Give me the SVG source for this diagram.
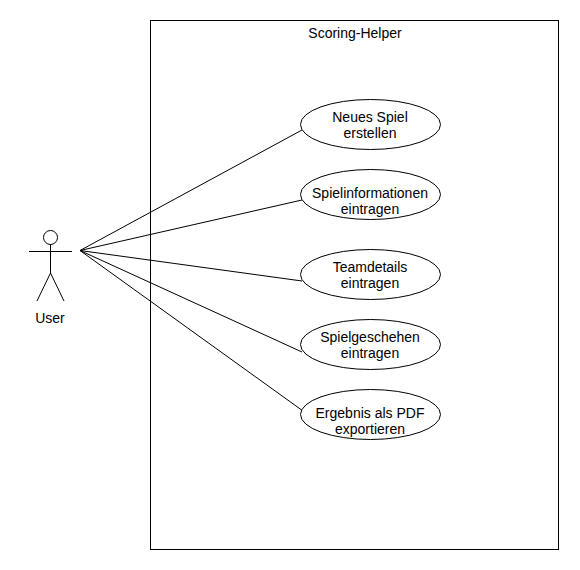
<svg xmlns="http://www.w3.org/2000/svg" width="580" height="570" viewBox="0 0 580 570">
<style>
text{font-family:"Liberation Sans",Arial,sans-serif;font-size:14px;fill:#000;text-anchor:middle}
.s{fill:none;stroke:#000;stroke-width:1}
.u{fill:#fff;stroke:#000;stroke-width:1}
</style>
<rect width="580" height="570" fill="#fff"/>
<g id="system"><rect class="s" x="150.500" y="20.500" width="408" height="529"/><text x="355" y="38">Scoring-Helper</text></g>
<g id="connectors">
<line class="s" x1="80" y1="250.500" x2="302" y2="130"/>
<line class="s" x1="80" y1="250.500" x2="302" y2="200"/>
<line class="s" x1="80" y1="250.500" x2="302" y2="281"/>
<line class="s" x1="80" y1="250.500" x2="302" y2="352"/>
<line class="s" x1="80" y1="250.500" x2="303" y2="411"/>
</g>
<g id="actor-user">
<circle class="s" cx="50.500" cy="237.500" r="7"/>
<path class="s" d="M50.500 244.500V273M29 251.500H72M50.500 273L37 301M50.500 273L64 301"/>
<text x="50" y="323">User</text>
</g>
<g id="uc1"><ellipse class="u" cx="370.500" cy="124.500" rx="70" ry="25"/><text x="370" y="122">Neues Spiel</text><text x="370" y="138">erstellen</text></g>
<g id="uc2"><ellipse class="u" cx="370.500" cy="194.500" rx="70" ry="25"/><text x="370" y="198">Spielinformationen</text><text x="370" y="214">eintragen</text></g>
<g id="uc3"><ellipse class="u" cx="370.500" cy="274.500" rx="70" ry="25"/><text x="370" y="272">Teamdetails</text><text x="370" y="288">eintragen</text></g>
<g id="uc4"><ellipse class="u" cx="370.500" cy="344.500" rx="70" ry="25"/><text x="370" y="342">Spielgeschehen</text><text x="370" y="358">eintragen</text></g>
<g id="uc5"><ellipse class="u" cx="370.500" cy="414.500" rx="70" ry="25"/><text x="370" y="418">Ergebnis als PDF</text><text x="370" y="434">exportieren</text></g>
</svg>
